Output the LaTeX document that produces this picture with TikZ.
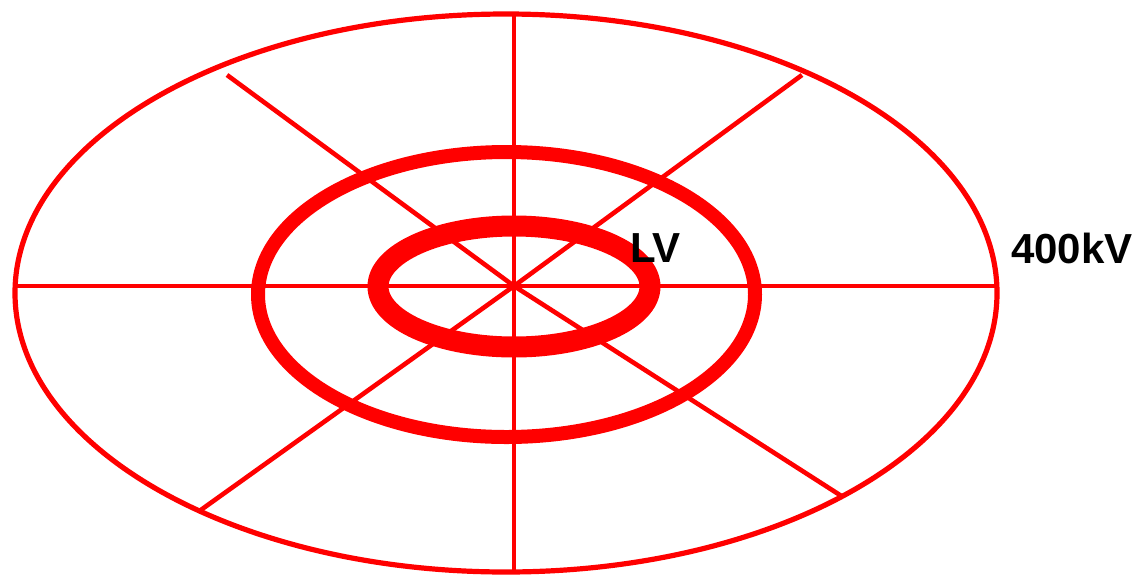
\documentclass[tikz,border=0pt]{standalone}
\usepackage{fontspec}
\setmainfont{Liberation Sans}
\begin{document}
\begin{tikzpicture}[x=1pt,y=-1pt,
  ring/.style={draw=red},
  spoke/.style={draw=red,line width=4.6pt},
  lbl/.style={font=\fontsize{42}{44}\selectfont\bfseries,text=black,inner sep=0pt,anchor=base west}]
\useasboundingbox (0,0) rectangle (1138,574);
\coordinate (c) at (514,286);
\coordinate (top) at (514,14);
\coordinate (bot) at (514,572);
\coordinate (lft) at (15,286);
\coordinate (rgt) at (997,286);
\coordinate (ul) at (227,75);
\coordinate (ur) at (802,75);
\coordinate (ll) at (198,512);
\coordinate (lr) at (843,497);
\foreach \e in {top,bot,lft,rgt,ul,ur,ll,lr}
  \draw[spoke] (c) -- (\e);
\draw[ring,line width=5.2pt] (506,293) ellipse [x radius=491,y radius=279];
\draw[ring,line width=14pt] (506.5,294.5) ellipse [x radius=248.5,y radius=142.5];
\draw[ring,line width=21pt] (514,286.5) ellipse [x radius=136,y radius=60.5];
\node[lbl] (lv) at (630,262) {LV};
\node[lbl] (hv) at (1011,263) {400kV};
\end{tikzpicture}
\end{document}
